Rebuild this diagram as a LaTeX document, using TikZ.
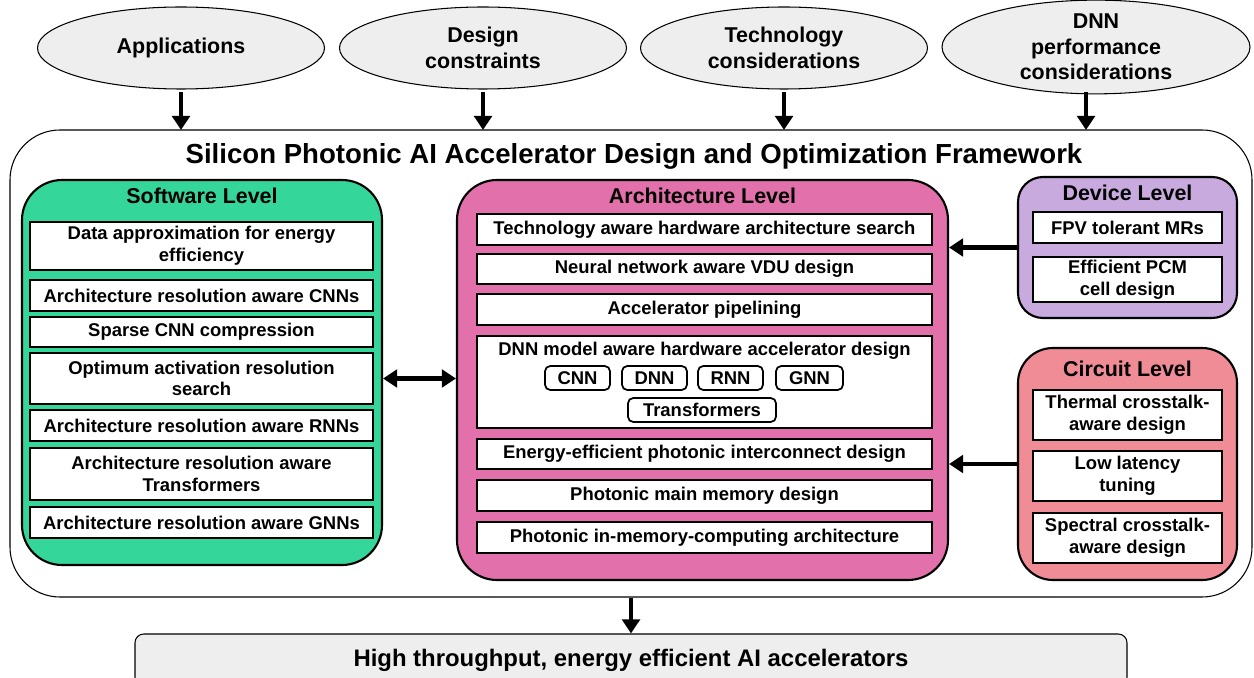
\documentclass[tikz,border=0pt]{standalone}
\usepackage{fontspec}
\setmainfont{Liberation Sans}
\usepackage{xcolor}
\usetikzlibrary{shapes.geometric, arrows.meta, positioning}

\definecolor{swgreen}{RGB}{52,214,154}
\definecolor{archpink}{RGB}{226,112,170}
\definecolor{devlilac}{RGB}{200,170,222}
\definecolor{cirred}{RGB}{240,140,150}
\definecolor{cloudgray}{RGB}{238,238,238}

\tikzset{
  cloud/.style={ellipse, draw, line width=0.6pt, fill=cloudgray, align=center,
    minimum width=287*0.02cm, minimum height=82*0.02cm, inner sep=0pt,
    font=\fontsize{12.2}{14.6}\selectfont\bfseries},
  level/.style={draw, line width=1.2pt, rounded corners=0.8cm},
  head/.style={font=\fontsize{12.2}{14}\selectfont\bfseries, inner sep=1pt},
  item/.style={draw, line width=1.2pt, fill=white, align=center, inner sep=1pt,
    font=\fontsize{10.5}{12.4}\selectfont\bfseries},
  chip/.style={draw, line width=1pt, rounded corners=3pt, inner sep=1pt,
    minimum height=24*0.02cm, font=\fontsize{10.5}{12.4}\selectfont\bfseries}
}

\begin{document}
\begin{tikzpicture}[x=0.02cm, y=-0.02cm, >={Triangle[length=8pt,width=10pt]}]
	\useasboundingbox (0,0) rectangle (1254,678);

	% inputs
	\node[cloud] (app) at (181,48) {Applications};
	\node[cloud] (dc) at (483,48) {Design\\constraints};
	\node[cloud] (tech) at (784,48) {Technology\\considerations};
	\node[cloud, minimum width=308*0.02cm, minimum height=90*0.02cm] (dnnp) at (1096,47)
		{DNN\\performance\\considerations};

	% framework
	\node[draw, line width=0.6pt, rounded corners=1cm, fill=white,
		minimum width=1242*0.02cm, minimum height=467*0.02cm] (fw) at (631,363.5) {};
	\node[font=\fontsize{15.7}{18}\selectfont\bfseries] (fwtitle) at (634,156)
		{Silicon Photonic AI Accelerator Design and Optimization Framework};

	\foreach \src/\xx in {app/181, dc/483, tech/784, dnnp/1086}
		\draw[->, line width=2.4pt] (\xx,92) -- (\xx,130);

	% software level
	\node[level, fill=swgreen, minimum width=360*0.02cm, minimum height=385*0.02cm] (sw) at (202,372.5) {};
	\node[head, below=4pt of sw.north] (swhead) {Software Level};
	\foreach \yc/\hh/\txt [count=\i] in {
		246/48/{Data approximation for energy\\efficiency},
		295.5/31/{Architecture resolution aware CNNs},
		332/30/{Sparse CNN compression},
		378.5/51/{Optimum activation resolution\\search},
		425.5/31/{Architecture resolution aware RNNs},
		474/52/{Architecture resolution aware\\Transformers},
		522.5/31/{Architecture resolution aware GNNs}}
		\node[item, minimum width=343*0.02cm, minimum height=\hh*0.02cm] (sw\i) at (201.5,\yc) {\txt};

	% architecture level
	\node[level, fill=archpink, minimum width=491*0.02cm, minimum height=400*0.02cm] (arch) at (702.5,380) {};
	\node[head, below=4pt of arch.north] (archhead) {Architecture Level};
	\foreach \yc/\hh/\txt [count=\i] in {
		229.5/31/{Technology aware hardware architecture search},
		269/30/{Neural network aware VDU design},
		309.5/31/{Accelerator pipelining},
		382/92/{},
		454/30/{Energy-efficient photonic interconnect design},
		495.5/31/{Photonic main memory design},
		537.5/31/{Photonic in-memory-computing architecture}}
		\node[item, minimum width=455*0.02cm, minimum height=\hh*0.02cm] (arch\i) at (704.5,\yc) {\txt};
	\node[item, draw=none, fill=none] (dnnhead) at (704.5,351) {DNN model aware hardware accelerator design};
	\node[chip, minimum width=65*0.02cm] (cnn) at (577.5,378) {CNN};
	\node[chip, minimum width=65*0.02cm] (dnn) at (654.5,378) {DNN};
	\node[chip, minimum width=65*0.02cm] (rnn) at (730.5,378) {RNN};
	\node[chip, minimum width=67*0.02cm] (gnn) at (809.5,378) {GNN};
	\node[chip, minimum width=148*0.02cm] (trf) at (702,410) {Transformers};

	% device level
	\node[level, fill=devlilac, rounded corners=0.5cm, minimum width=219*0.02cm, minimum height=141*0.02cm] (dev) at (1127.5,247.5) {};
	\node[head, below=4pt of dev.north] (devhead) {Device Level};
	\node[item, minimum width=189*0.02cm, minimum height=31*0.02cm] (dev1) at (1127.5,227.5) {FPV tolerant MRs};
	\node[item, minimum width=189*0.02cm, minimum height=45*0.02cm] (dev2) at (1127.5,279.5) {Efficient PCM\\cell design};

	% circuit level
	\node[level, fill=cirred, rounded corners=0.7cm, minimum width=219*0.02cm, minimum height=232*0.02cm] (cir) at (1127.5,464) {};
	\node[head, below=7pt of cir.north] (cirhead) {Circuit Level};
	\foreach \yc/\txt [count=\i] in {
		415/{Thermal crosstalk-\\aware design},
		476/{Low latency\\tuning},
		538/{Spectral crosstalk-\\aware design}}
		\node[item, minimum width=189*0.02cm, minimum height=50*0.02cm] (cir\i) at (1127.5,\yc) {\txt};

	% ligacoes
	\draw[<->, line width=2.4pt] (sw4.east -| sw.east) -- (sw4.east -| arch.west);
	\draw[->, line width=2.4pt] (dev.west) -- (dev.west -| arch.east);
	\draw[->, line width=2.4pt] (cir.west) -- (cir.west -| arch.east);

	% output
	\node[draw, line width=0.6pt, rounded corners=5pt, fill=cloudgray,
		minimum width=992*0.02cm, minimum height=52*0.02cm,
		font=\fontsize{13.6}{16}\selectfont\bfseries] (out) at (631,660) {High throughput, energy efficient AI accelerators};
	\draw[->, line width=2.4pt] (fw.south) -- (out.north);
\end{tikzpicture}
\end{document}
